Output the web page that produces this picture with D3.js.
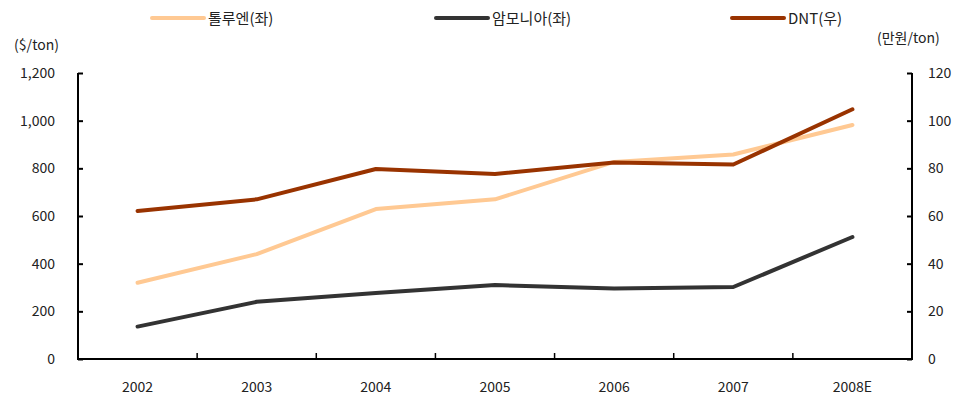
<!DOCTYPE html>
<html><head><meta charset="utf-8">
<script src="https://cdn.jsdelivr.net/npm/d3@7"></script>
<style>body{margin:0;background:#fff}svg{display:block}text{font-family:"Noto Sans CJK KR","Liberation Sans",sans-serif;fill:#222}</style>
</head><body><svg id="c" width="970" height="396"></svg>
<script>
const categories = ["2002","2003","2004","2005","2006","2007","2008E"];
const toluene = [320, 440, 629, 670, 827, 858, 982];
const ammonia = [136, 240, 277, 310, 296, 302, 512];
const dnt = [62.1, 67.0, 79.7, 77.6, 82.4, 81.6, 104.8];
const leftTicks = [0,200,400,600,800,1000,1200];
const rightTicks = [0,20,40,60,80,100,120];
const seriesNames = ["톨루엔(좌)","암모니아(좌)","DNT(우)"];
const colors = ["#FFC993","#333333","#993300"];

const svg = d3.select("#c");
const L=78, R=912, T=73, B=359;
const x = d3.scaleBand().domain(categories).range([L,R]);
const yL = d3.scaleLinear().domain([0,1200]).range([B,T]);
const yR = d3.scaleLinear().domain([0,120]).range([B,T]);

const ax = svg.append("g");
// left axis
const gl = ax.append("g").attr("transform",`translate(${L},0)`)
  .call(d3.axisRight(yL).tickValues(leftTicks).tickSize(5).tickFormat(()=>""));
gl.select(".domain").remove();
gl.selectAll("line").attr("stroke","#000").attr("stroke-width",2);
ax.append("line").attr("x1",L).attr("x2",L).attr("y1",T).attr("y2",B+1).attr("stroke","#000").attr("stroke-width",2);
leftTicks.forEach(v=>ax.append("text").attr("x",55).attr("y",yL(v)+5).attr("text-anchor","end").attr("font-size",14).text(d3.format(",")(v)));
// right axis
const gr = ax.append("g").attr("transform",`translate(${R},0)`)
  .call(d3.axisLeft(yR).tickValues(rightTicks).tickSize(5).tickFormat(()=>""));
gr.select(".domain").remove();
gr.selectAll("line").attr("stroke","#000").attr("stroke-width",2);
ax.append("line").attr("x1",R).attr("x2",R).attr("y1",T).attr("y2",B+1).attr("stroke","#000").attr("stroke-width",2);
rightTicks.forEach(v=>ax.append("text").attr("x",928).attr("y",yR(v)+5).attr("text-anchor","start").attr("font-size",14).text(v));
// bottom axis
ax.append("line").attr("x1",L-1).attr("x2",R+1).attr("y1",B).attr("y2",B).attr("stroke","#000").attr("stroke-width",2);
categories.slice(1).forEach(c=>ax.append("line").attr("x1",x(c)).attr("x2",x(c)).attr("y1",B).attr("y2",B-6).attr("stroke","#000").attr("stroke-width",1.5));
categories.forEach(c=>ax.append("text").attr("x",x(c)+x.bandwidth()/2).attr("y",392).attr("text-anchor","middle").attr("font-size",14).text(c));

// unit labels
svg.append("text").attr("x",14).attr("y",50).attr("font-size",14).text("($/ton)");
svg.append("text").attr("x",877).attr("y",43).attr("font-size",14).text("(만원/ton)");

// lines
const cx = c=>x(c)+x.bandwidth()/2;
const data = [[toluene,yL],[ammonia,yL],[dnt,yR]];
data.forEach(([vals,ys],i)=>{
  const line = d3.line().x((d,j)=>cx(categories[j])).y(d=>ys(d));
  svg.append("path").datum(vals).attr("d",line).attr("fill","none")
    .attr("stroke",colors[i]).attr("stroke-width",4).attr("stroke-linejoin","round").attr("stroke-linecap","round");
});

// legend
const legX = [152,436,732];
seriesNames.forEach((n,i)=>{
  svg.append("line").attr("x1",legX[i]).attr("x2",legX[i]+52).attr("y1",18).attr("y2",18)
    .attr("stroke",colors[i]).attr("stroke-width",4).attr("stroke-linecap","round");
  svg.append("text").attr("x",legX[i]+56).attr("y",24).attr("font-size",15).text(n);
});
</script></body></html>
